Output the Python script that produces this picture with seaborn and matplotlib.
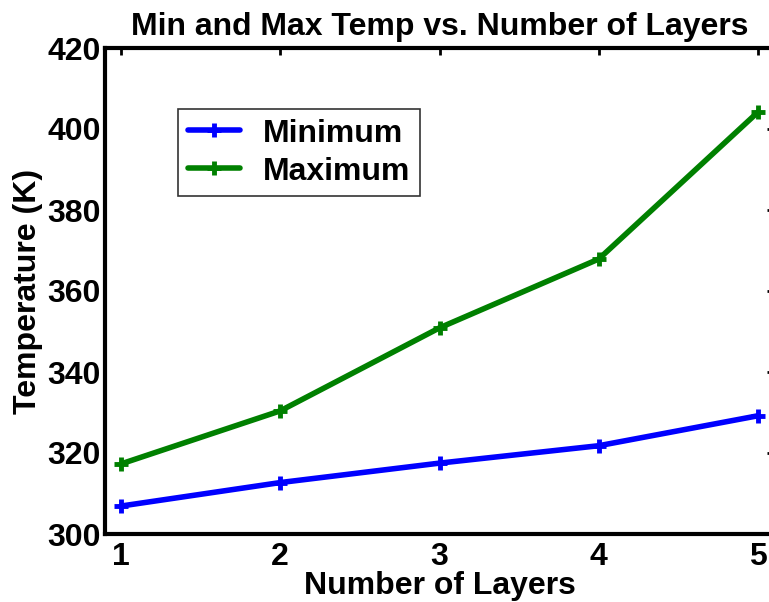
import matplotlib
matplotlib.use("Agg")
import matplotlib.pyplot as plt
import seaborn as sns
import pandas as pd

layers = [1, 2, 3, 4, 5]
min_temp = [306.9, 312.7, 317.5, 321.8, 329.2]
max_temp = [317.3, 330.4, 350.9, 367.9, 404.2]
series_labels = ["Minimum", "Maximum"]
y_ticks = [300, 320, 340, 360, 380, 400, 420]

sns.set_style("white")
plt.rcParams['font.family'] = ['Liberation Sans', 'DejaVu Sans']
plt.rcParams['font.weight'] = 'bold'
plt.rcParams['text.color'] = 'black'
plt.rcParams['axes.labelcolor'] = 'black'
plt.rcParams['xtick.color'] = 'black'
plt.rcParams['ytick.color'] = 'black'

fig = plt.figure(figsize=(7.69, 6.02), dpi=100)
ax = fig.add_axes([105/769, 1 - 534/602, (774 - 105)/769, (534 - 48)/602])

df_min = pd.DataFrame({"x": layers, "y": min_temp})
df_max = pd.DataFrame({"x": layers, "y": max_temp})
blue = (0, 0, 1)
green = (0, 0.5, 0)
line_kw = dict(linewidth=4, marker='+', markersize=10, markeredgewidth=3.5)
sns.lineplot(data=df_min, x="x", y="y", ax=ax, color=blue, label=series_labels[0],
             markeredgecolor=blue, markerfacecolor=blue, **line_kw)
sns.lineplot(data=df_max, x="x", y="y", ax=ax, color=green, label=series_labels[1],
             markeredgecolor=green, markerfacecolor=green, **line_kw)

ax.set_xlim(0.9, 5.1)
ax.set_ylim(300, 420)
ax.set_xticks(layers)
ax.set_yticks(y_ticks)
ax.set_xticklabels([str(v) for v in layers])
ax.set_yticklabels([str(v) for v in y_ticks])

for s in ax.spines.values():
    s.set_visible(True)
    s.set_color('black')
    s.set_linewidth(3)

ax.tick_params(axis='both', which='major', direction='in', length=5, width=2,
               color='black', labelcolor='black', labelsize=23, top=True, right=True)
ax.tick_params(axis='x', pad=6)
ax.tick_params(axis='y', pad=3)
for lab in ax.get_xticklabels() + ax.get_yticklabels():
    lab.set_fontweight('bold')

ax.set_title("Min and Max Temp vs. Number of Layers", fontsize=23, fontweight='bold',
             color='black', pad=9)
ax.set_xlabel("Number of Layers", fontsize=23, fontweight='bold', color='black', labelpad=-1)
ax.set_ylabel("Temperature (K)", fontsize=23, fontweight='bold', color='black', labelpad=3)

leg = ax.legend(loc='upper left', bbox_to_anchor=(178/769, 1 - 109/602),
                bbox_transform=fig.transFigure, fontsize=23, frameon=True,
                fancybox=False, edgecolor='black', handlelength=1.65,
                handletextpad=0.72, labelspacing=0.25, borderpad=0.3,
                borderaxespad=0)
leg.get_frame().set_linewidth(1.2)
for t in leg.get_texts():
    t.set_fontweight('bold')
    t.set_color('black')

fig.savefig("out.png", dpi=100)
